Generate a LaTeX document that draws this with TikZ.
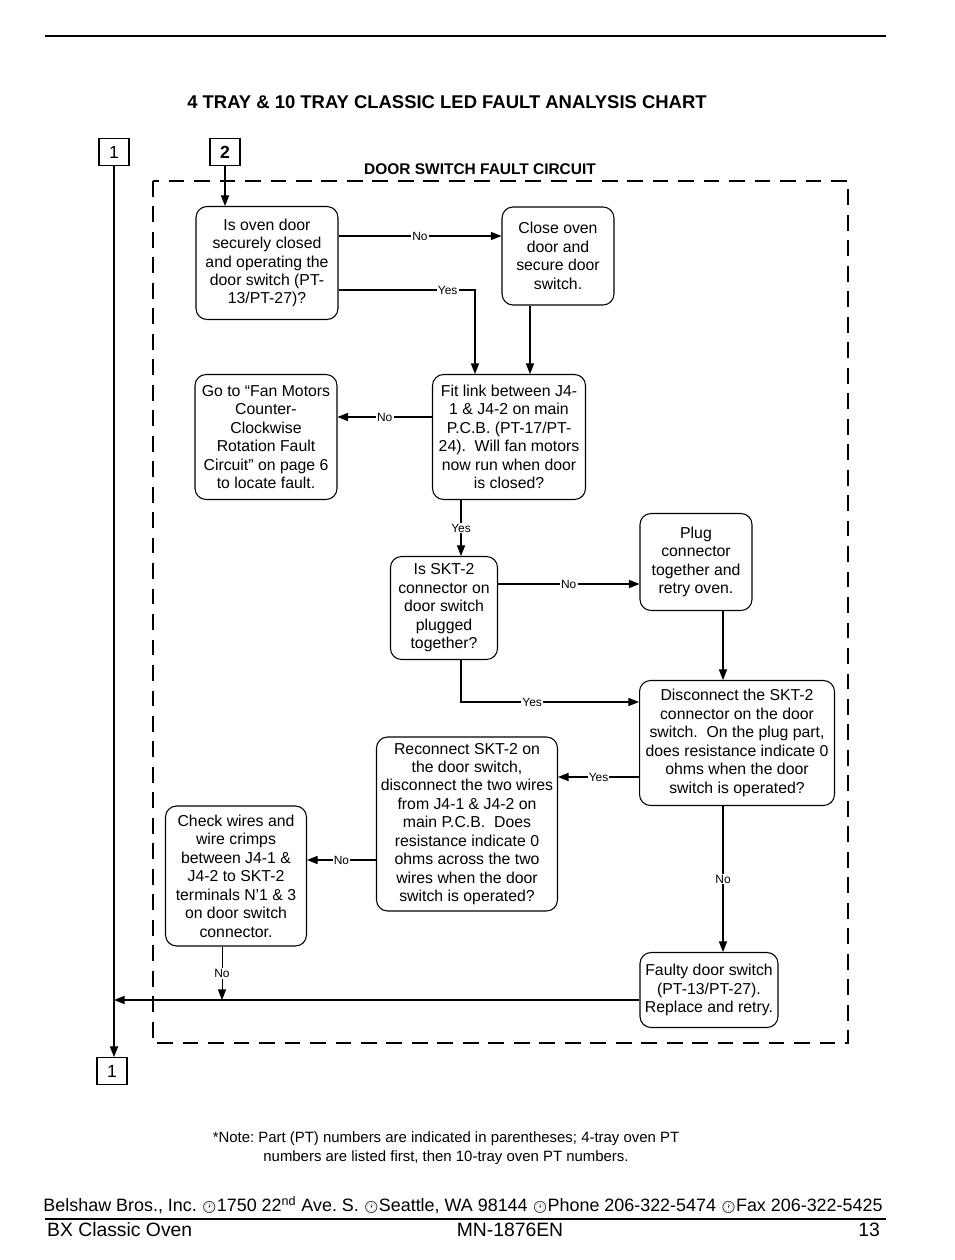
\documentclass[tikz,border=0pt]{standalone}
\usepackage{fontspec}
\setmainfont{Liberation Sans}
\newfontfamily\clockfont{Noto Emoji}
\usetikzlibrary{arrows.meta,positioning}

\tikzset{
  stepbox/.style={draw, rounded corners=0.22cm, align=center, inner sep=0pt,
    line width=0.6pt, font=\fontsize{9}{10.5}\selectfont},
  lbl/.style={fill=white, inner sep=0.7pt, font=\fontsize{6.8}{7}\selectfont},
  numbox/.style={draw, minimum width=0.6cm, minimum height=0.54cm, inner sep=0pt,
    line width=0.6pt, font=\fontsize{10}{12}\selectfont},
  flow/.style={-{Triangle[length=6pt,width=4.6pt]}, line width=0.6pt},
}

\newcommand{\clk}{\scalebox{0.66}{\clockfont 🕐}}

\begin{document}
\frenchspacing
\begin{tikzpicture}[x=0.02cm, y=-0.02cm]
        \useasboundingbox (0,0) rectangle (954,1260);

        % page rule and titles
        \draw[line width=0.7pt] (45,36) -- (886,36);
        \node (title) at (447,102) {\bfseries\fontsize{10.5}{12}\selectfont 4 TRAY \& 10 TRAY CLASSIC LED FAULT ANALYSIS CHART};
        \node (circ) at (480,169) {\bfseries\fontsize{8.8}{10}\selectfont DOOR SWITCH FAULT CIRCUIT};
        \draw[line width=0.9pt, dash pattern=on 9pt off 5.5pt] (153,181) rectangle (848,1043);

        % page links
        \node[numbox] (one) at (114,152) {1};
        \node[numbox, font=\bfseries\fontsize{10}{12}\selectfont] (two) at (225,152) {2};
        \node[numbox] (oneb) at (112,1071) {1};

        % steps
        \node[stepbox, minimum width=2.84cm, minimum height=2.26cm] (A) at (267,263)
          {Is oven door\\securely closed\\and operating the\\door switch (PT-\\13/PT-27)?};
        \node[stepbox, minimum width=2.24cm, minimum height=1.96cm] (B) at (558,256)
          {Close oven\\door and\\secure door\\switch.};
        \node[stepbox, minimum width=3.06cm, minimum height=2.5cm] (C) at (509,437)
          {Fit link between J4-\\1 \& J4-2 on main\\P.C.B. (PT-17/PT-\\24).\ \ Will fan motors\\now run when door\\is closed?};
        \node[stepbox, minimum width=2.84cm, minimum height=2.5cm] (D) at (266,437)
          {Go to “Fan Motors\\Counter-\\Clockwise\\Rotation Fault\\Circuit" on page 6\\to locate fault.};
        \node[stepbox, minimum width=2.14cm, minimum height=2.06cm] (E) at (444,608)
          {Is SKT-2\\connector on\\door switch\\plugged\\together?};
        \node[stepbox, minimum width=2.24cm, minimum height=1.94cm] (F) at (696,562)
          {Plug\\connector\\together and\\retry oven.};
        \node[stepbox, minimum width=3.9cm, minimum height=2.5cm] (G) at (737,743)
          {Disconnect the SKT-2\\connector on the door\\switch.\ \ On the plug part,\\does resistance indicate 0\\ohms when the door\\switch is operated?};
        \node[stepbox, minimum width=3.62cm, minimum height=3.48cm] (H) at (467,824)
          {Reconnect SKT-2 on\\the door switch,\\disconnect the two wires\\from J4-1 \& J4-2 on\\main P.C.B.\ \ Does\\resistance indicate 0\\ohms across the two\\wires when the door\\switch is operated?};
        \node[stepbox, minimum width=2.82cm, minimum height=2.8cm] (I) at (236,876)
          {Check wires and\\wire crimps\\between J4-1 \&\\J4-2 to SKT-2\\terminals N'1 \& 3\\on door switch\\connector.};
        \node[stepbox, minimum width=2.76cm, minimum height=1.5cm] (J) at (709,990)
          {Faulty door switch\\(PT-13/PT-27).\\Replace and retry.};

        % levels of the connectors
        \coordinate (yAno) at (0,236);
        \coordinate (yAyes) at (0,290);
        \coordinate (xCyes) at (475,0);
        \coordinate (xCb) at (530,0);
        \coordinate (yCno) at (0,417);
        \coordinate (xE) at (461,0);
        \coordinate (yEno) at (0,584);
        \coordinate (yEyes) at (0,702);
        \coordinate (xG) at (723,0);
        \coordinate (yGyes) at (0,777);
        \coordinate (yHno) at (0,860);
        \coordinate (xI) at (222,0);
        \coordinate (yJ) at (0,1000);

        \draw[flow] (two.south) -- (two.south |- A.north);
        \draw[flow] (A.east |- yAno) -- node[lbl]{No} (B.west |- yAno);
        \draw[flow] (A.east |- yAyes) -- node[lbl, pos=0.8]{Yes} (xCyes |- yAyes) -- (xCyes |- C.north);
        \draw[flow] (xCb |- B.south) -- (xCb |- C.north);
        \draw[flow] (C.west |- yCno) -- node[lbl]{No} (D.east |- yCno);
        \draw[flow] (xE |- C.south) -- node[lbl]{Yes} (xE |- E.north);
        \draw[flow] (E.east |- yEno) -- node[lbl]{No} (F.west |- yEno);
        \draw[flow] (xG |- F.south) -- (xG |- G.north);
        \draw[flow] (xE |- E.south) -- (xE |- yEyes) -- node[lbl, pos=0.4]{Yes} (G.west |- yEyes);
        \draw[flow] (G.west |- yGyes) -- node[lbl]{Yes} (H.east |- yGyes);
        \draw[flow] (H.west |- yHno) -- node[lbl]{No} (I.east |- yHno);
        \draw[flow] (xG |- G.south) -- node[lbl]{No} (xG |- J.north);
        \draw[flow] (J.west |- yJ) -- (one.south |- yJ);
        \draw[flow, line width=0.4pt] (xI |- I.south) -- node[lbl]{No} (xI |- yJ);
        \draw[flow] (one.south) -- (one.south |- oneb.north);

        % note and footer
        \node[align=center, font=\fontsize{8.5}{10.8}\selectfont] (note) at (446,1148)
          {*Note: Part (PT) numbers are indicated in parentheses; 4-tray oven PT\\numbers are listed first, then 10-tray oven PT numbers.};
        \node[font=\fontsize{10.2}{13}\selectfont, inner sep=0pt] (addr) at (463,1205)
          {Belshaw Bros., Inc. \clk1750 22\textsuperscript{nd} Ave. S. \clk Seattle, WA 98144 \clk Phone 206-322-5474 \clk Fax 206-322-5425};
        \draw[line width=1pt] (45,1219) -- (886,1219);
        \node[anchor=west, font=\fontsize{11}{13}\selectfont] (oven) at (41,1230) {BX Classic Oven};
        \node[font=\fontsize{11}{13}\selectfont] (mn) at (510,1230) {MN-1876EN};
        \node[anchor=east, font=\fontsize{11}{13}\selectfont] (page) at (886,1230) {13};
\end{tikzpicture}
\end{document}
